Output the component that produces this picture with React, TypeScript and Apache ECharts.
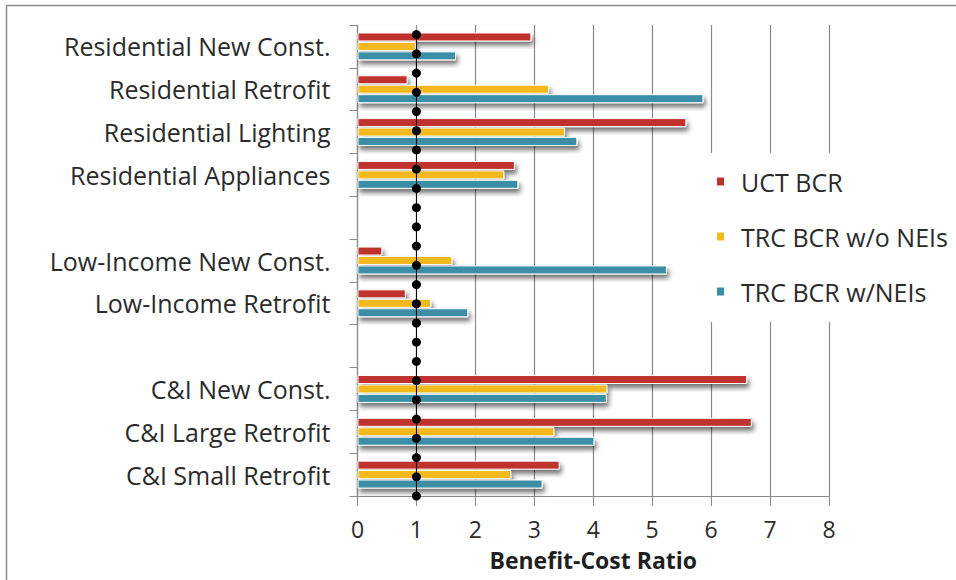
import React, { useEffect, useRef } from "react";
import * as echarts from "echarts";

// Programme categories, top to bottom; empty strings are spacer rows between sectors
const categories = [
  "Residential New Const.",
  "Residential Retrofit",
  "Residential Lighting",
  "Residential Appliances",
  "",
  "Low-Income New Const.",
  "Low-Income Retrofit",
  " ",
  "C&I New Const.",
  "C&I Large Retrofit",
  "C&I Small Retrofit",
];

const uctBcr = [2.95, 0.85, 5.58, 2.67, null, 0.42, 0.82, null, 6.61, 6.69, 3.43];
const trcNoNei = [0.99, 3.25, 3.52, 2.49, null, 1.61, 1.25, null, 4.24, 3.34, 2.61];
const trcWithNei = [1.67, 5.87, 3.73, 2.73, null, 5.25, 1.88, null, 4.23, 4.02, 3.14];

// Break-even reference markers at BCR = 1
const breakEvenRows = [0, 1, 2, 3, 4, 5, 6, 7, 8, 9, 10, 11, 12, 13, 14, 15, 16, 17, 18, 19, 20, 21, 22, 23, 24];
const breakEvenValue = 1;

const xTicks = [0, 1, 2, 3, 4, 5, 6, 7, 8];

const seriesNames = ["UCT BCR", "TRC BCR w/o NEIs", "TRC BCR w/NEIs"];
const seriesColors = ["#C0302E", "#F2B81C", "#3A8EA5"];

const FONT = "'Open Sans', 'Noto Sans', sans-serif";
const TEXT = "#2b2b2b";

export default function App() {
  const ref = useRef<HTMLDivElement>(null);

  useEffect(() => {
    if (!ref.current) return;
    const chart = echarts.init(ref.current, undefined, { renderer: "svg" });

    const barStyle = (color: string) => ({
      color,
      borderColor: "#ffffff",
      borderWidth: 1,
      shadowColor: "rgba(0,0,0,0.55)",
      shadowBlur: 5,
      shadowOffsetX: 2,
      shadowOffsetY: 4,
    });

    const values = [uctBcr, trcNoNei, trcWithNei];

    chart.setOption({
      animation: false,
      backgroundColor: "#ffffff",
      grid: { left: 357.5, top: 25, width: 471.5, height: 471, containLabel: false },
      graphic: [
        {
          type: "rect",
          shape: { x: 6.5, y: 5.5, width: 1000, height: 700 },
          style: { fill: "none", stroke: "#8c8c8c", lineWidth: 1.5 },
          silent: true,
        },
      ],
      legend: {
        data: seriesNames,
        orient: "vertical",
        left: 703,
        top: 153,
        padding: [16, 4, 18, 12],
        backgroundColor: "#ffffff",
        itemGap: 30,
        itemWidth: 9,
        itemHeight: 10,
        icon: "rect",
        z: 10,
        textStyle: { fontFamily: FONT, fontSize: 25, color: TEXT, padding: [0, 0, 0, 11] },
      },
      xAxis: {
        type: "value",
        min: xTicks[0],
        max: xTicks[xTicks.length - 1],
        interval: 1,
        name: "Benefit-Cost Ratio",
        nameLocation: "middle",
        nameGap: 52,
        nameTextStyle: {
          fontFamily: FONT,
          fontSize: 23,
          fontWeight: "bold",
          color: "#1f1f1f",
          lineHeight: 23,
        },
        axisLine: { show: true, lineStyle: { color: "#8a8a8a", width: 1.2 } },
        axisTick: { show: true, length: 10, lineStyle: { color: "#8a8a8a" } },
        axisLabel: { fontFamily: FONT, fontSize: 23, color: TEXT, margin: 21, lineHeight: 23 },
        splitLine: { show: true, lineStyle: { color: "#8a8a8a", width: 1.2 } },
      },
      yAxis: [
        {
          type: "category",
          data: categories,
          inverse: true,
          axisLine: { show: true, lineStyle: { color: "#8a8a8a", width: 1.2 } },
          axisTick: { show: true, length: 8, alignWithLabel: false, interval: 0, lineStyle: { color: "#8a8a8a" } },
          axisLabel: { fontFamily: FONT, fontSize: 25, color: TEXT, margin: 27, interval: 0 },
          splitLine: { show: false },
        },
        {
          type: "value",
          min: 0,
          max: 24.5,
          show: false,
        },
      ],
      series: [
        ...seriesNames.map((name, i) => ({
          name,
          type: "bar",
          yAxisIndex: 0,
          data: values[i],
          barWidth: 9,
          barGap: "5%",
          itemStyle: barStyle(seriesColors[i]),
        })),
        {
          name: "Break-even",
          type: "line",
          yAxisIndex: 1,
          data: breakEvenRows.map((r) => [breakEvenValue, r]),
          symbol: "circle",
          symbolSize: 9,
          lineStyle: { color: "#000000", width: 1 },
          itemStyle: { color: "#000000" },
          z: 5,
          clip: false,
        },
      ],
    });

    return () => chart.dispose();
  }, []);

  return (
    <div
      ref={ref}
      style={{ position: "fixed", left: 0, top: 0, width: 956, height: 580 }}
    />
  );
}
